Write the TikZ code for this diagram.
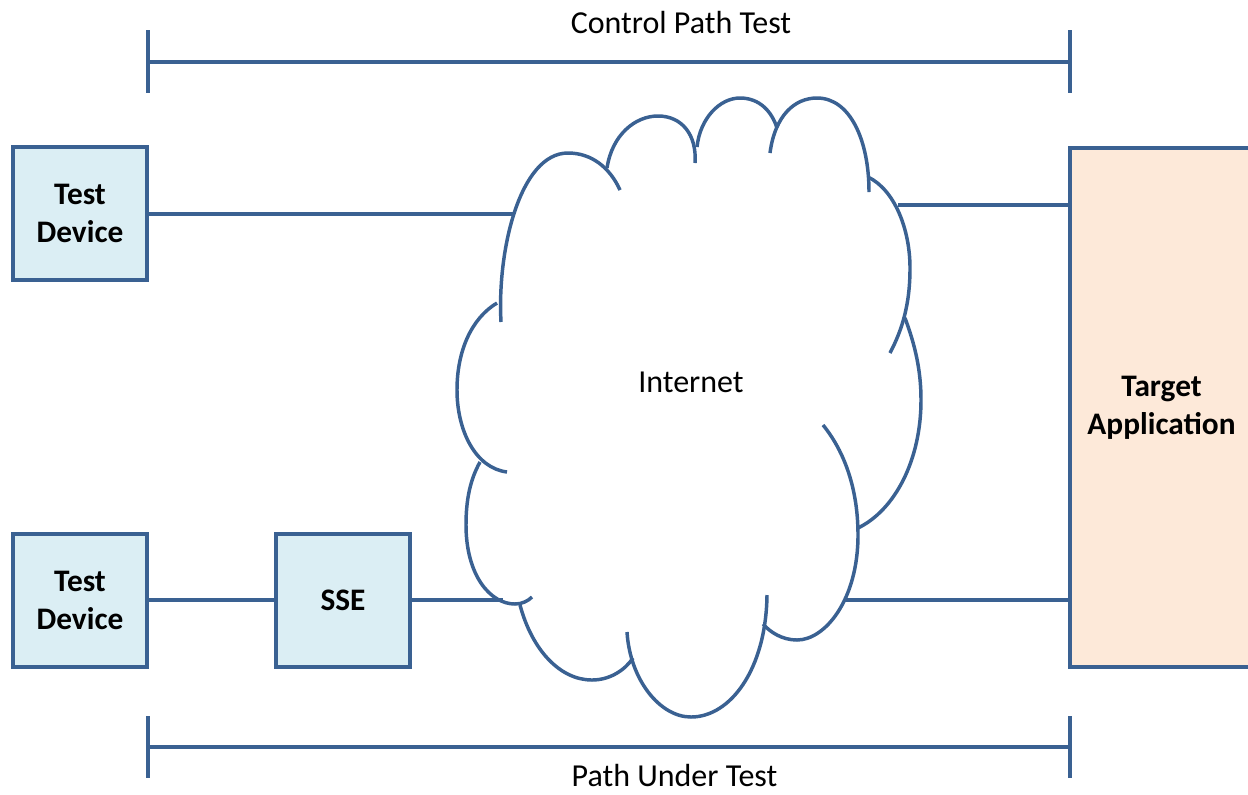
\documentclass[tikz,border=0pt]{standalone}
\usepackage{fontspec}
\setmainfont{Carlito}
\usepackage{xcolor}
\usepackage{tikz}

\definecolor{lineblue}{HTML}{3A6192}
\definecolor{devblue}{HTML}{DBEEF4}
\definecolor{apppeach}{HTML}{FDE9D9}

\begin{document}
\begin{tikzpicture}[x=0.75pt, y=-0.75pt,
  box/.style={draw=lineblue, line width=3pt, fill=devblue, inner sep=0pt,
    minimum width=100.5pt, minimum height=99.75pt, align=center,
    font=\fontsize{23.5}{28.5}\selectfont\bfseries},
  wire/.style={draw=lineblue, line width=3pt},
  puff/.style={draw=lineblue, line width=2.6pt},
  caption/.style={inner sep=0pt, anchor=base, font=\fontsize{24}{28}\selectfont}]
\path[fill=white, use as bounding box] (0,0) rectangle (1248,794);

% Boxes
\node[box] (td1) at (80,213.5) {Test\\Device};
\node[box] (td2) at (80,600) {Test\\Device};
\node[box] (sse) at (343,600) {SSE};
\node[box, fill=apppeach, minimum width=137.25pt, minimum height=389.25pt] (app) at (1161.5,407.5) {Target\\Application};

% Cloud
\draw[puff] (501,322) .. controls (497,250) and (520,153) .. (568,153) .. controls (592,153) and (610,168) .. (620,190);
\draw[puff] (607,168) .. controls (612,135) and (635,116) .. (658,116) .. controls (682,116) and (697,135) .. (695,163);
\draw[puff] (697,147) .. controls (700,118) and (720,98) .. (740,98) .. controls (760,98) and (772,112) .. (777,128);
\draw[puff] (770,153) .. controls (775,115) and (795,98) .. (817,98) .. controls (850,98) and (869,140) .. (869,192);
\draw[puff] (868,177) .. controls (895,190) and (910,230) .. (910,268) .. controls (910,305) and (902,330) .. (890,353);
\draw[puff] (905,318) .. controls (915,345) and (921,370) .. (921,400) .. controls (921,460) and (895,510) .. (858,528);
\draw[puff] (823,425) .. controls (845,452) and (858,490) .. (858,535) .. controls (858,600) and (825,640) .. (797,640) .. controls (782,640) and (770,632) .. (763,624);
\draw[puff] (767,595) .. controls (766,670) and (730,717) .. (691,717) .. controls (660,717) and (630,680) .. (627,632);
\draw[puff] (520,605) .. controls (532,650) and (560,680) .. (592,680) .. controls (610,680) and (625,670) .. (633,658);
\draw[puff] (480,462) .. controls (470,480) and (466,500) .. (466,525) .. controls (466,575) and (490,604) .. (515,604) .. controls (522,604) and (528,601) .. (532,597);
\draw[puff] (497,303) .. controls (472,318) and (457,350) .. (457,390) .. controls (457,430) and (475,468) .. (507,472);
\node[caption] (inet) at (691,392) {Internet};
\coordinate (inetNW) at (513,213);
\coordinate (inetNE) at (898,205);
\coordinate (inetSW) at (503,600);
\coordinate (inetSE) at (845,600);

% Lines
\draw[wire] (td1.east) -- (td1.east -| inetNW);
\draw[wire] (inetNE) -- (inetNE -| app.west);
\draw[wire] (td2.east) -- (sse.west);
\draw[wire] (sse.east) -- (inetSW);
\draw[wire] (inetSE) -- (inetSE -| app.west);

% Brackets
\coordinate (ctlL) at (148,62);
\coordinate (ctlR) at (1070,62);
\coordinate (putL) at (148,747);
\coordinate (putR) at (1070,747);
\draw[wire] (ctlL) -- (ctlR);
\draw[wire] (148,30) -- (148,93);
\draw[wire] (1070,30) -- (1070,93);
\draw[wire] (putL) -- (putR);
\draw[wire] (148,716) -- (148,778);
\draw[wire] (1070,716) -- (1070,778);
\node[caption] (ctltext) at (681,33) {Control Path Test};
\node[caption] (puttext) at (674.5,786) {Path Under Test};
\end{tikzpicture}
\end{document}
